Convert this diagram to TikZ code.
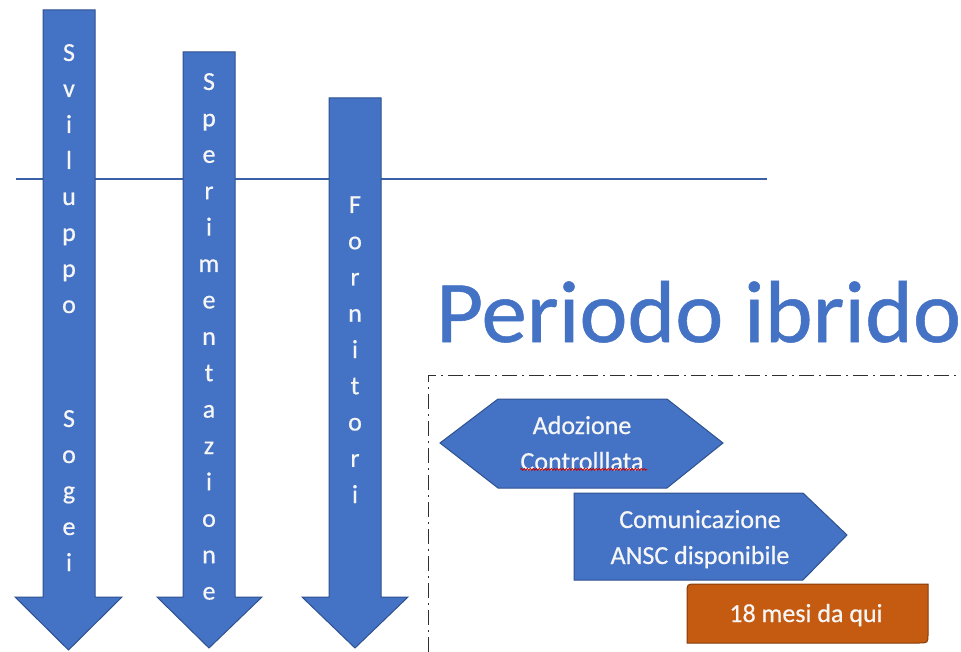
\documentclass[tikz,border=0pt]{standalone}
\usepackage{fontspec}
\setmainfont{Carlito}[FakeBold=0.6]
\newfontfamily\heavier{Carlito}[FakeBold=0.6]
\usetikzlibrary{decorations.pathmorphing}
\definecolor{accblue}{HTML}{4472C4}
\definecolor{accblueline}{HTML}{2F528F}
\definecolor{accorange}{HTML}{C55A11}
\definecolor{accorangeline}{HTML}{843C0C}
\definecolor{txtwhite}{HTML}{F6F6F6}
\definecolor{framegray}{HTML}{303030}
\begin{document}
\begin{tikzpicture}[x=1pt,y=-1pt,
  bluearrow/.style={fill=accblue,draw=accblueline,line width=1pt},
  bluebox/.style={fill=accblue,draw=accblueline,line width=1pt},
  orangebox/.style={fill=accorange,draw=accorangeline,line width=1pt},
  vletter/.style={text=txtwhite,font=\heavier\fontsize{26}{31}\selectfont,anchor=base,inner sep=0pt},
  boxtext/.style={text=txtwhite,font=\heavier\fontsize{26}{31}\selectfont,anchor=base,inner sep=0pt},
  frameline/.style={draw=framegray,line width=1pt,dash pattern=on 15pt off 5pt on 2pt off 5pt},
]
\useasboundingbox[fill=white] (0,0) rectangle (961,652);

% horizontal line (behind arrows)
\coordinate (hl) at (16,179);
\coordinate (hr) at (767,179);
\draw[accblue!85!black, line width=1.2pt] (hl) -- (hr);

% vertical arrows
\draw[bluearrow] (43,10) -- (95,10) -- (95,597) -- (122,597) -- (68.5,650) -- (15,597) -- (43,597) -- cycle;
\draw[bluearrow] (183,52) -- (235,52) -- (235,597) -- (262,597) -- (209,648) -- (157,597) -- (183,597) -- cycle;
\draw[bluearrow] (329,98) -- (381,98) -- (381,597) -- (408,597) -- (355,648) -- (302,597) -- (329,597) -- cycle;

% vertical letters
\foreach \c [count=\i from 0] in {S,v,i,l,u,p,p,o}
  \node[vletter] (svil\i) at (69,{61+36*\i}) {\c};
\foreach \c [count=\i from 0] in {S,o,g,e,i}
  \node[vletter] (sog\i) at (69,{427+36*\i}) {\c};
\foreach \c [count=\i from 0] in {S,p,e,r,i,m,e,n,t,a,z,i,o,n,e}
  \node[vletter] (sper\i) at (209,{90+36.4*\i}) {\c};
\foreach \c [count=\i from 0] in {F,o,r,n,i,t,o,r,i}
  \node[vletter] (forn\i) at (355,{213+36.25*\i}) {\c};

% title
\node[anchor=base west, text=accblue, font=\heavier\fontsize{88}{100}\selectfont, inner sep=0pt, xscale=1.035] (title) at (436,342) {Periodo ibrido};

% dash-dot frame
\coordinate (fb) at (428,652);
\coordinate (fc) at (428,375);
\coordinate (fr) at (961,375);
\draw[frameline] (fb) -- (fc) -- (fr);

% hexagon
\draw[bluebox] (440,443) -- (498,399) -- (667,399) -- (723,443) -- (667,488) -- (498,488) -- cycle;
\node[boxtext] (adoz) at (582,434) {Adozione};
\node[boxtext] (contr) at (582,470) {Controlllata};
\draw[red!75!black, line width=0.7pt, decorate, decoration={snake, amplitude=1pt, segment length=3pt}]
  (contr.south west) ++(0,-1) -- ++(127,0);

% pentagon
\draw[bluebox] (574,493) -- (803,493) -- (847,535) -- (803,580) -- (574,580) -- cycle;
\node[boxtext] (comu) at (700,528) {Comunicazione};
\node[boxtext] (ansc) at (700,564) {ANSC disponibile};

% orange box
\draw[orangebox] (687,643) -- (687,593) .. controls (687,584) .. (696,584) -- (928,584) -- (928,634) .. controls (928,643) .. (919,643) -- cycle;
\node[boxtext] (mesi) at (806,622) {18 mesi da qui};
\end{tikzpicture}
\end{document}
